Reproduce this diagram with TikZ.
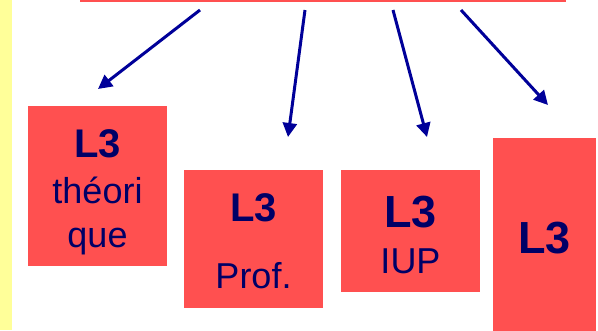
\documentclass[tikz,border=0pt]{standalone}
\usepackage{fontspec}
\setmainfont{Liberation Sans}
\usetikzlibrary{arrows.meta}
\definecolor{boxred}{RGB}{255,80,80}
\definecolor{arrowblue}{RGB}{0,0,153}
\definecolor{textnavy}{RGB}{0,0,102}
\definecolor{stripyellow}{RGB}{255,255,153}

\begin{document}
\begin{tikzpicture}[x=1pt, y=-1pt,
	box/.style={fill=boxred, inner sep=0pt, anchor=north west},
	lbl/.style={text=textnavy, anchor=base, inner sep=0pt},
	big/.style={font=\bfseries\fontsize{#1}{#1}\selectfont},
	small/.style={font=\fontsize{36}{36}\selectfont},
	arr/.style={arrowblue, line width=3pt, -{Triangle[length=14pt,width=14pt]}}]
	% Background and left strip
	\useasboundingbox (0,0) rectangle (598,330);
	\fill[white] (0,0) rectangle (598,330);
	\fill[stripyellow] (0,0) rectangle (12,330);
	
	% Top box (only its lower edge shows)
	\node[box, minimum width=486pt, minimum height=1.5pt] (top) at (80,0) {};
	
	% The four L3 boxes
	\node[box, minimum width=139pt, minimum height=160pt] (theo) at (28,106) {};
	\node[box, minimum width=139pt, minimum height=138pt] (prof) at (184,170) {};
	\node[box, minimum width=139pt, minimum height=122pt] (iup) at (341,170) {};
	\node[box, minimum width=103pt, minimum height=200pt] (other) at (493,138) {};
	
	% Labels
	\node[lbl, big=40] (theoA) at (97.5,157) {L3};
	\node[lbl, small] (theoB) at (97.5,203) {théori};
	\node[lbl, small] (theoC) at (97.5,247) {que};
	\node[lbl, big=40] (profA) at (253.5,221) {L3};
	\node[lbl, small] (profB) at (253.5,288) {Prof.};
	\node[lbl, big=45] (iupA) at (410.5,227) {L3};
	\node[lbl, small] (iupB) at (410.5,273) {IUP};
	\node[lbl, big=45] (otherA) at (544.5,253) {L3};
	
	% Arrows from the top box
	\coordinate (s1) at (200,10);
	\coordinate (s2) at (305,10);
	\coordinate (s3) at (393,10);
	\coordinate (s4) at (461,10);
	\coordinate (e1) at (98,89);
	\coordinate (e2) at (288,137);
	\coordinate (e3) at (427,137);
	\coordinate (e4) at (548,105);
	\draw[arr] (s1) -- (e1);
	\draw[arr] (s2) -- (e2);
	\draw[arr] (s3) -- (e3);
	\draw[arr] (s4) -- (e4);
\end{tikzpicture}
\end{document}
